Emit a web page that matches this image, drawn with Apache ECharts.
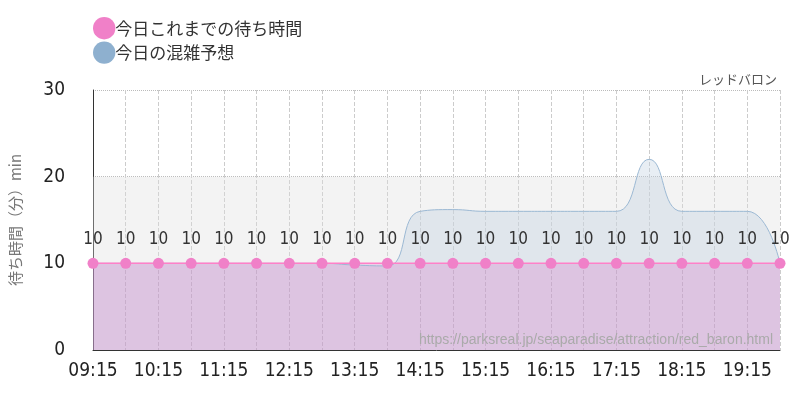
<!DOCTYPE html><html><head><meta charset="utf-8"><script src="https://cdn.jsdelivr.net/npm/echarts@6/dist/echarts.min.js"></script></head><body style="margin:0"><div id="c" style="width:800px;height:400px"></div><script>
const categories=['09:15','09:45','10:15','10:45','11:15','11:45','12:15','12:45','13:15','13:45','14:15','14:45','15:15','15:45','16:15','16:45','17:15','17:45','18:15','18:45','19:15','19:45'];
const actual=[10,10,10,10,10,10,10,10,10,10,10,10,10,10,10,10,10,10,10,10,10,10];
const forecast=[10,10,10,10,10,10,10,10,9.8,9.7,16,16.2,16,16,16,16,16,22,16,16,16,10];
const yTicks=[0,10,20,30];
const ch=echarts.init(document.getElementById('c'));
const F='Roboto Condensed, "DejaVu Sans Condensed", Roboto, sans-serif';
ch.setOption({
 animation:false,
 legend:{orient:'vertical',left:88,top:12,itemWidth:12,itemHeight:28,itemGap:2,textStyle:{fontSize:17,color:'#333',fontFamily:'Noto Sans CJK JP'},data:['今日これまでの待ち時間','今日の混雑予想']},
 title:[{text:'レッドバロン',right:18,top:68,textStyle:{fontSize:13,fontWeight:'normal',color:'#555',fontFamily:'Noto Sans CJK JP'}},
 {text:'https://parksreal.jp/seaparadise/attraction/red_baron.html',right:22,top:328,textStyle:{fontSize:14,fontWeight:'normal',color:'#aaa'}}],
 grid:{left:90,right:20,top:90,bottom:50},
 xAxis:{type:'category',boundaryGap:false,data:categories,
  axisLine:{lineStyle:{color:'#333'}},axisTick:{show:false},
  axisLabel:{interval:1,fontSize:19,color:'#222',fontFamily:'DejaVu Sans Condensed',margin:12},
  splitLine:{show:true,interval:0,lineStyle:{type:'dashed',color:'#ccc'}}},
 yAxis:{type:'value',min:0,max:30,interval:10,name:'待ち時間（分）min',nameLocation:'middle',nameGap:70,nameTextStyle:{fontSize:15,color:'#777',fontFamily:'Noto Sans CJK JP'},
  axisLine:{show:true,lineStyle:{color:'#333'}},axisLabel:{fontSize:19,color:'#222',fontFamily:'DejaVu Sans Condensed',margin:28,formatter:v=>yTicks.includes(v)?v:''},
  splitLine:{show:true,lineStyle:{type:'dotted',color:'#bbb'}}},
 series:[
 {name:'今日の混雑予想',type:'line',data:forecast,smooth:true,symbol:'none',lineStyle:{color:'#9bb8d3',width:1},itemStyle:{color:'#8eb0cf'},areaStyle:{color:'rgba(190,208,224,0.5)'},
  markArea:{silent:true,itemStyle:{color:'rgba(220,220,220,0.35)'},data:[[{yAxis:10},{yAxis:20}]]}},
 {name:'今日これまでの待ち時間',type:'line',data:actual,symbol:'circle',symbolSize:11,lineStyle:{color:'#ff80c8',width:1.5},itemStyle:{color:'#f080c8'},areaStyle:{color:'rgba(200,120,190,0.5)'},
  label:{show:true,position:'top',distance:10,fontSize:17,color:'#333',fontFamily:'DejaVu Sans Condensed'}}
 ]});
</script></body></html>
